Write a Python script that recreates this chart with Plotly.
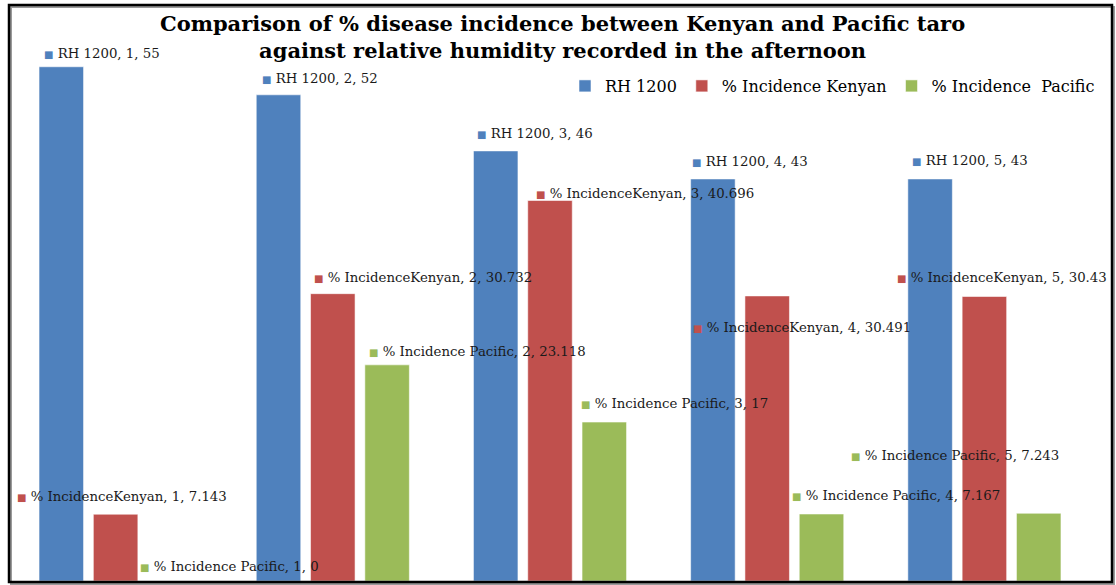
import plotly.graph_objects as go

# ---- data ----
categories = [1, 2, 3, 4, 5]
rh_1200 = [55, 52, 46, 43, 43]
incidence_kenyan = [7.143, 30.732, 40.696, 30.491, 30.43]
incidence_pacific = [0, 23.118, 17, 7.167, 7.243]

series_names = ["RH 1200", "% Incidence Kenyan", "% Incidence&nbsp; Pacific"]
label_names = ["RH 1200", "% IncidenceKenyan", "% Incidence Pacific"]
colors = ["#4F81BD", "#C0504D", "#9BBB59"]
title_lines = [
    "Comparison of % disease incidence between Kenyan and Pacific taro",
    "against relative humidity recorded in the afternoon",
]

# ---- label placement (pixel offsets from bar centre / bar top) ----
label_dx = [
    [-19, -19, -21, -23, -20],
    [-101, -21, -16, -76, -89],
    [-32, -20, -25, -32, -190],
]
label_dy = [
    [13, 16, 17, 17, 18],
    [18, 16, 7, -32, 19],
    [15, 13, 19, 18, 58],
]

W, H = 1116, 585
ml, mr, mt, mb = 7, 23, 20, 4

series_values = [rh_1200, incidence_kenyan, incidence_pacific]
fig = go.Figure()
for name, vals, col in zip(series_names, series_values, colors):
    fig.add_trace(go.Bar(
        x=categories, y=vals, name=name,
        marker=dict(color=col, line=dict(color="rgba(255,255,255,0.55)", width=1)),
        hoverinfo="skip",
    ))

slot = 0.25
annotations = []
for si, (lname, vals, col) in enumerate(zip(label_names, series_values, colors)):
    off = (si - 1) * slot
    for ci, (cat, v) in enumerate(zip(categories, vals)):
        vt = f"{v:g}"
        text = (f"<span style='color:{col};font-size:10px'>■</span>"
                f"&nbsp;{lname}, {cat}, {vt}")
        annotations.append(dict(
            x=cat + off, y=v, xref="x", yref="y",
            xanchor="left", yanchor="middle",
            xshift=label_dx[si][ci], yshift=label_dy[si][ci],
            text=text, showarrow=False,
            font=dict(family="DejaVu Serif", size=13.3, color="#1a1a1a"),
        ))

pw = W - ml - mr
ph = H - mt - mb
def px_x(p):
    return (p - ml) / pw
def px_y(p):
    return (H - mb - p) / ph

annotations.append(dict(
    x=px_x(562), y=px_y(9), xref="paper", yref="paper",
    xanchor="center", yanchor="top", showarrow=False,
    text="<b>" + "<br>".join(title_lines) + "</b>",
    font=dict(family="DejaVu Serif", size=21, color="black"),
))

shapes = [
    dict(type="rect", xref="paper", yref="paper",
         x0=px_x(11), x1=px_x(1114), y0=px_y(584), y1=px_y(7),
         line=dict(color="#9a9a9a", width=2), layer="below"),
    dict(type="rect", xref="paper", yref="paper",
         x0=px_x(9), x1=px_x(1112), y0=px_y(582), y1=px_y(5),
         line=dict(color="black", width=2.5)),
]

fig.update_layout(
    width=W, height=H,
    margin=dict(l=ml, r=mr, t=mt, b=mb),
    paper_bgcolor="white", plot_bgcolor="white",
    barmode="group", bargap=0.25, bargroupgap=0.18,
    xaxis=dict(range=[0.5, 5.5], visible=False, fixedrange=True),
    yaxis=dict(range=[0, 60], visible=False, fixedrange=True),
    legend=dict(
        orientation="h", x=px_x(1100), xanchor="right", y=px_y(86), yanchor="middle",
        font=dict(family="DejaVu Serif", size=16, color="black"),
        bgcolor="rgba(0,0,0,0)", itemwidth=30, traceorder="normal",
    ),
    annotations=annotations,
    shapes=shapes,
    showlegend=True,
)

fig.write_html("out.html")
